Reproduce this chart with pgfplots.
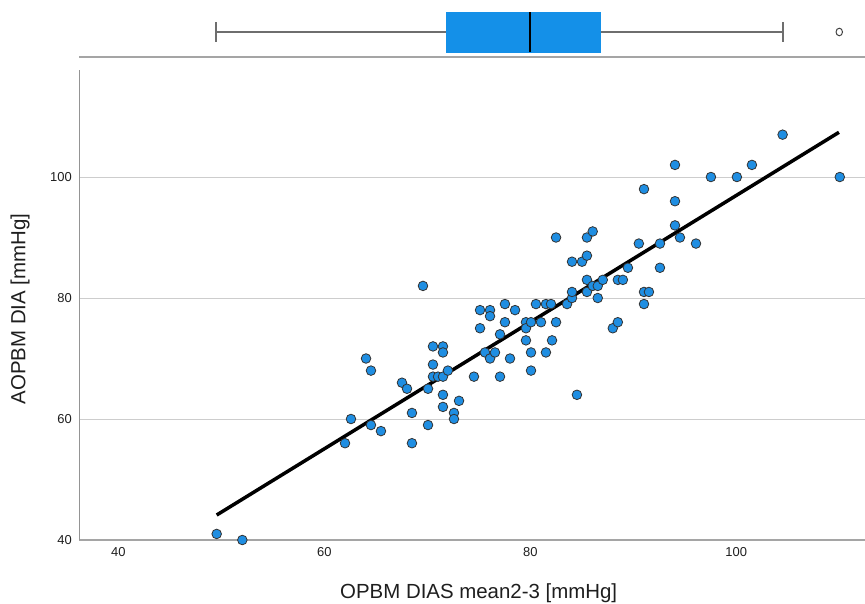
\documentclass[border=0pt]{standalone}
\usepackage{pgfplots}
\pgfplotsset{compat=1.18}
\usepackage{pgfplotstable}
\usepgfplotslibrary{statistics}
\usepackage{fontspec}
\setmainfont{Liberation Sans}

\definecolor{ptblue}{RGB}{31,142,226}
\definecolor{boxblue}{RGB}{20,144,232}
\definecolor{axgray}{RGB}{165,165,165}
\definecolor{gridgray}{RGB}{205,205,205}
\definecolor{whiskgray}{RGB}{110,110,110}
\definecolor{txt}{RGB}{30,30,30}

% OPBM DIAS mean2-3 (x) against AOPBM DIA (y), both in mmHg
\pgfplotstableread{
x y
49.55 41
52.04 40
62.01 56
62.59 60
64.05 70
64.53 68
64.53 59
65.50 58
67.54 66
68.03 65
68.51 61
68.51 56
69.58 82
70.07 65
70.07 59
70.55 72
70.55 69
70.55 67
71.04 67
71.52 72
71.52 71
71.52 67
71.52 64
71.52 62
72.00 68
72.59 61
72.59 60
73.08 63
74.53 67
75.12 78
75.12 75
75.60 71
76.09 78
76.09 77
76.09 70
76.57 71
77.06 67
77.06 74
77.54 79
77.54 76
78.03 70
78.52 78
79.58 76
79.58 75
79.58 73
80.07 76
80.07 71
80.07 68
80.55 79
81.04 76
81.52 71
81.52 79
82.01 79
82.11 73
82.50 90
82.50 76
83.57 79
84.05 80
84.05 81
84.05 86
84.53 64
85.02 86
85.50 90
85.50 87
85.50 83
85.50 81
86.06 91
86.06 82
86.55 82
86.55 80
87.04 83
88.01 75
88.50 76
88.50 83
88.99 83
89.48 85
90.54 89
91.04 98
91.04 81
91.04 79
91.52 81
92.59 85
92.59 89
94.05 102
94.05 96
94.05 92
94.53 90
96.09 89
97.54 100
100.06 100
101.52 102
104.50 107
110.05 100
}\scatterdata

\begin{document}
\begin{tikzpicture}
\useasboundingbox (-79.3bp,-64bp) rectangle (785.7bp,540bp);

% marginal boxplot of the x variable
\begin{axis}[
  at={(0bp,483bp)}, anchor=south west,
  scale only axis, width=785.7bp, height=57bp,
  xmin=36.21, xmax=112.5, ymin=0, ymax=57,
  axis y line=none, axis x line*=bottom,
  x axis line style={axgray, line width=2bp, -},
  xtick=\empty, clip=false,
]
\addplot[
  whiskgray, line width=2bp,
  boxplot/draw direction=x,
  boxplot/every box/.style={fill=boxblue, draw=boxblue, line width=0.5bp},
  boxplot/every median/.style={black, line width=2bp},
  boxplot/every whisker/.style={whiskgray, line width=2bp},
  boxplot prepared={
    lower whisker=49.49, lower quartile=71.8, median=80.0,
    upper quartile=86.75, upper whisker=104.5,
    draw position=25, box extend=40, whisker extend=20,
  },
] coordinates {};
\addplot[only marks, mark=o, mark size=3.8bp,
  mark options={xscale=0.85, draw=black!75, line width=1bp}]
  coordinates {(110.0,25)};
\end{axis}

% scatter plot with fitted line
\begin{axis}[
  at={(0bp,0bp)}, anchor=south west,
  scale only axis, width=785.7bp, height=470bp,
  xmin=36.21, xmax=112.5, ymin=40, ymax=117.69,
  axis x line*=bottom, axis y line*=left,
  x axis line style={axgray, line width=2bp, -},
  y axis line style={axgray!90!black, line width=1bp, -},
  xtick={40,60,80,100}, ytick={40,60,80,100},
  major tick length=0pt,
  /pgf/number format/assume math mode=true,
  ymajorgrids, grid style={gridgray, line width=1bp},
  tick label style={font=\fontsize{13}{15}\selectfont, text=txt},
  xticklabel style={yshift=-4bp},
  yticklabel style={xshift=-4bp},
  xlabel={OPBM DIAS mean2-3 [mmHg]},
  ylabel={AOPBM DIA [mmHg]},
  label style={font=\fontsize{20.5}{24}\selectfont, text=txt},
  xlabel style={at={(axis description cs:0.5083,-0.1138)}, anchor=center},
  ylabel style={at={(axis description cs:-0.0755,0.4915)}, anchor=center},
]
\addplot[only marks, mark=*, mark size=4.8bp,
  mark options={fill=ptblue, draw=black!80, line width=0.8bp}]
  table[x=x, y=y] {\scatterdata};
\addplot[black, line width=3.5bp] coordinates {(49.55,44.13) (109.97,107.39)};
\end{axis}
\end{tikzpicture}
\end{document}
